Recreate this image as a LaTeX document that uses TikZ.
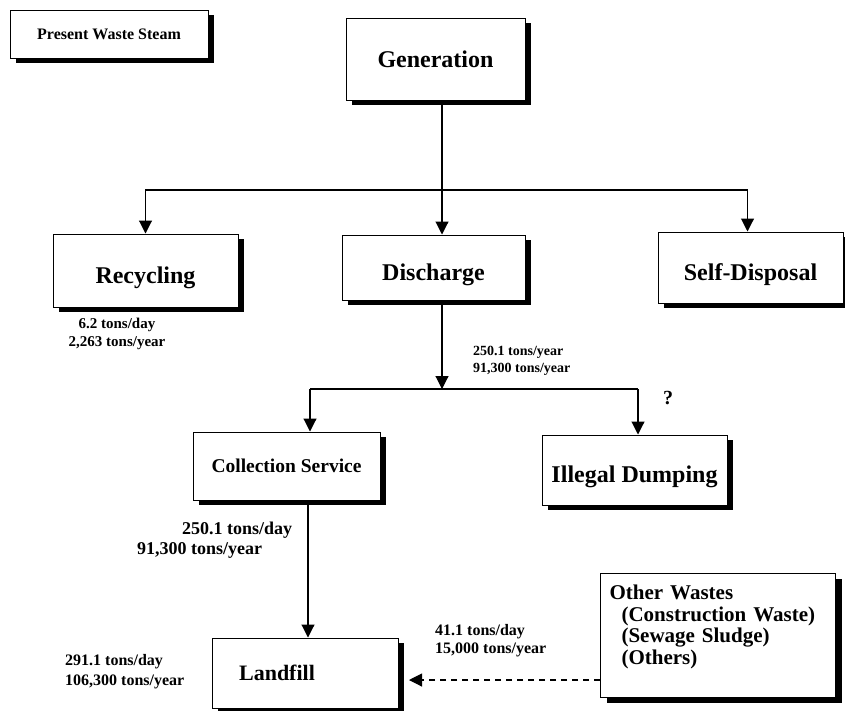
\documentclass[tikz,border=0pt]{standalone}
\usepackage{fontspec}
\setmainfont{Liberation Serif}
\usetikzlibrary{arrows.meta,shadows}
\newcommand\lowtxt[1]{\raisebox{-7pt}[\height][\depth]{#1}}
\tikzset{
  box/.style={draw=black, line width=1pt, fill=white, rectangle, inner sep=0pt,
    drop shadow={shadow xshift=6pt, shadow yshift=-5pt, fill=black, opacity=1}},
  big/.style={font=\fontsize{24}{28}\selectfont\bfseries},
  lbl/.style={font=\fontsize{15}{18}\selectfont\bfseries, inner sep=0pt},
  arr/.style={line width=1.1pt, -{Triangle[width=13pt,length=13pt]}},
  ln/.style={line width=1.1pt},
}
\begin{document}
\begin{tikzpicture}[x=1pt,y=-1pt]
\useasboundingbox (0,0) rectangle (845,710);
% boxes
\node[box, minimum width=198, minimum height=48, font=\fontsize{16}{18}\selectfont\bfseries] (pws) at (109,34) {Present Waste Steam};
\node[box, big, minimum width=179, minimum height=82] (gen) at (435.5,59) {Generation};
\node[box, big, minimum width=185, minimum height=73] (rec) at (145.5,270.5) {\lowtxt{Recycling}};
\node[box, big, minimum width=183, minimum height=65] (dis) at (433.5,267.5) {\lowtxt{Discharge}};
\node[box, big, minimum width=185, minimum height=71] (self) at (750.5,267.5) {\lowtxt{Self-Disposal}};
\node[box, minimum width=187, minimum height=68, font=\fontsize{19.5}{22}\selectfont\bfseries] (col) at (286.5,466) {Collection Service};
\node[box, big, minimum width=185, minimum height=70] (ill) at (634.5,470) {\lowtxt{Illegal Dumping}};
\node[box, minimum width=186, minimum height=70, font=\fontsize{22}{24}\selectfont\bfseries] (land) at (305,673) {\hspace*{-56pt}Landfill};
\node[box, minimum width=235, minimum height=124, align=left, anchor=north west,
  font=\fontsize{21}{21.4}\selectfont\bfseries, text width=217, inner xsep=9pt, inner ysep=0pt] (oth) at (600,573)
  {Other Wastes\\\hspace*{12pt}(Construction Waste)\\\hspace*{12pt}(Sewage Sludge)\\\hspace*{12pt}(Others)\\\mbox{}};
% junctions
\coordinate (j1) at (442,190);
\coordinate (j2) at (442,389);
\coordinate (jl) at (310,389);
\coordinate (jr) at (638,389);
\coordinate (jc) at (308,500);
\coordinate (jd) at (600,680);
\coordinate (jt) at (409,680);
% connectors
\draw[ln] (gen.south -| j1) -- (j1);
\draw[arr] (j1) -| (rec.north);
\draw[arr] (j1) -- (j1 |- dis.north);
\draw[arr] (j1) -| ([xshift=-3pt]self.north);
\draw[arr] (dis.south -| j2) -- (j2);
\draw[ln] (jl) -- (jr);
\draw[arr] (jl) -- (jl |- col.north);
\draw[arr] (jr) -- (jr |- ill.north);
\draw[arr] (jc |- col.south) -- (jc |- land.north);
\draw[line width=1.1pt, dash pattern=on 6pt off 5pt, -{Triangle[width=13pt,length=13pt]}] (jd) -- (jt);
% labels
\node[lbl, align=center] (l1) at (117,334) {6.2 tons/day\\2,263 tons/year};
\node[lbl, align=left, anchor=west, font=\fontsize{14}{17}\selectfont\bfseries] (l2) at (473,361) {250.1 tons/year\\91,300 tons/year};
\node[font=\fontsize{20}{22}\selectfont\bfseries] (q) at (668,398) {?};
\node[lbl, align=left, anchor=west, font=\fontsize{18}{20}\selectfont\bfseries] (l3) at (137,540) {\hspace*{45pt}250.1 tons/day\\91,300 tons/year};
\node[lbl, align=left, anchor=west, font=\fontsize{16}{20}\selectfont\bfseries] (l4) at (65,672) {291.1 tons/day\\106,300 tons/year};
\node[lbl, align=left, anchor=west, font=\fontsize{16}{18}\selectfont\bfseries] (l5) at (435,641) {41.1 tons/day\\15,000 tons/year};
\end{tikzpicture}
\end{document}
